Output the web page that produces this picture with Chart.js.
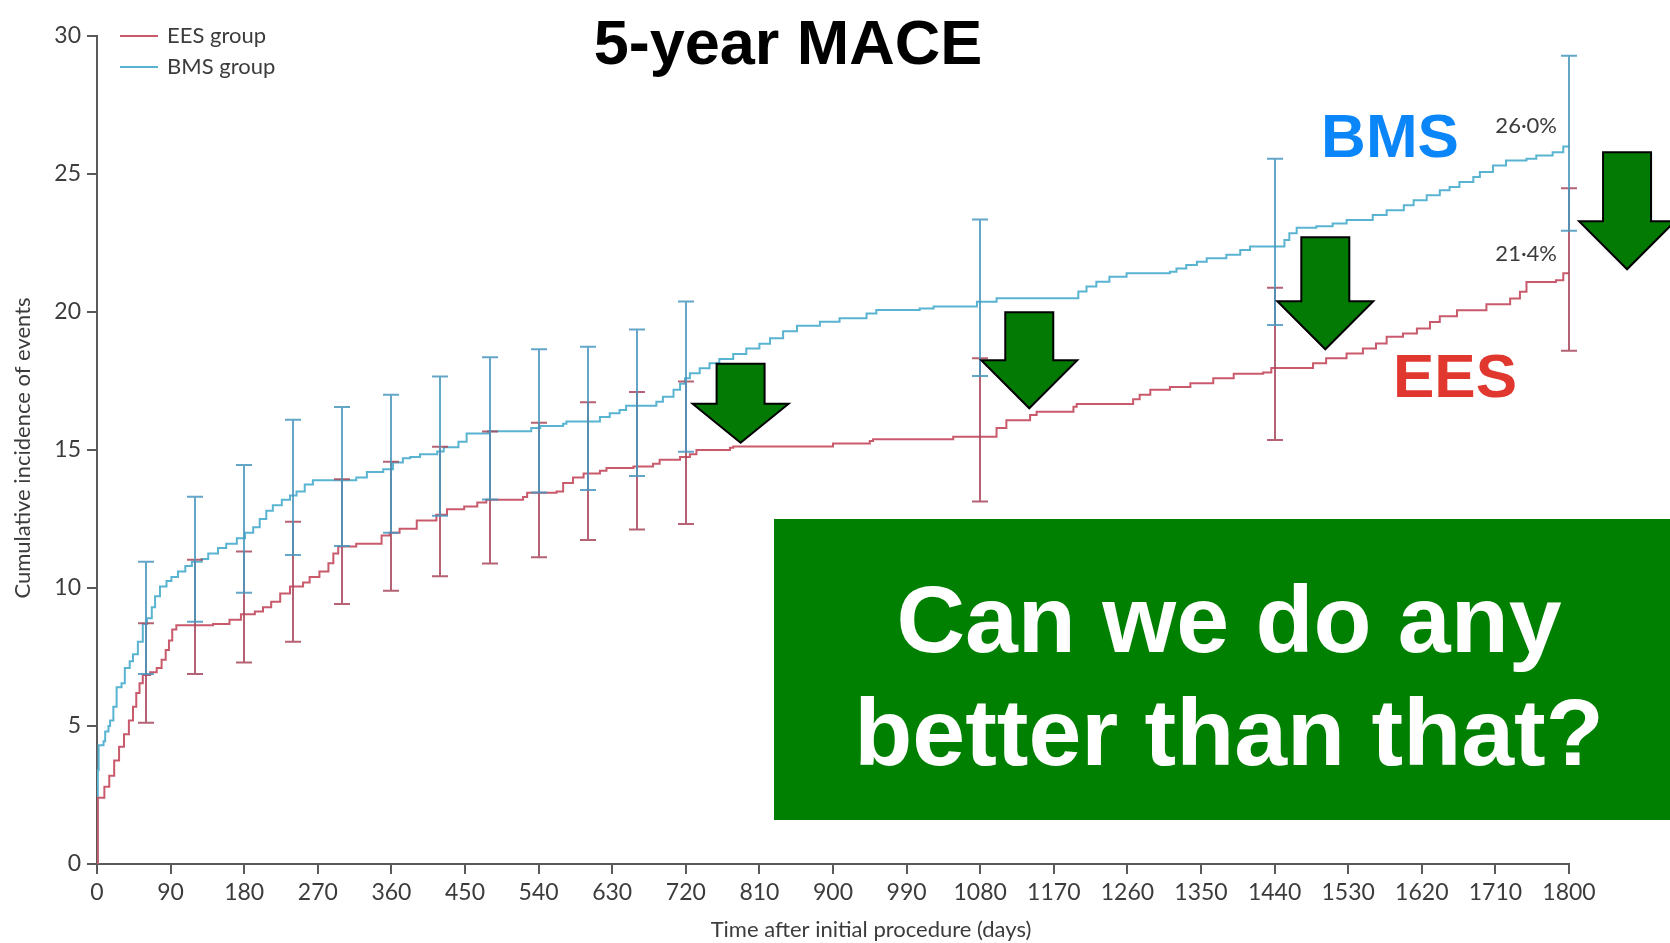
<!DOCTYPE html>
<html>
<head>
<meta charset="utf-8">
<title>5-year MACE</title>
<script src="https://cdn.jsdelivr.net/npm/chart.js@4.4.1/dist/chart.umd.min.js"></script>
<style>
  html, body { margin: 0; padding: 0; background: #ffffff; overflow: hidden; }
  canvas { display: block; }
</style>
</head>
<body>
<canvas id="mace" width="1670" height="943"></canvas>
<script>
// Cumulative incidence of MACE (%) by days after the index procedure.
// Each point marks the day the step occurs and the level reached after it.
const eesDays = [0, 1, 9, 15, 21, 27, 33, 39, 44, 48, 52, 56, 65, 73, 79, 84, 88, 92, 97, 142, 162, 176, 193, 203, 213, 224, 236, 252, 260, 272, 283, 289, 295, 317, 348, 358, 370, 391, 415, 428, 449, 465, 476, 521, 526, 562, 570, 582, 595, 615, 623, 656, 680, 688, 713, 725, 733, 774, 778, 900, 945, 949, 1047, 1100, 1112, 1141, 1149, 1194, 1198, 1267, 1275, 1288, 1312, 1337, 1365, 1390, 1426, 1436, 1487, 1503, 1528, 1548, 1564, 1577, 1597, 1614, 1630, 1642, 1663, 1699, 1728, 1740, 1748, 1784, 1793, 1800];
const eesValues = [0, 2.4, 2.8, 3.2, 3.75, 4.25, 4.7, 5.2, 5.7, 6.2, 6.55, 6.85, 6.95, 7.1, 7.4, 7.75, 8.1, 8.5, 8.65, 8.7, 8.85, 9.05, 9.15, 9.3, 9.5, 9.8, 10.05, 10.2, 10.4, 10.6, 10.9, 11.25, 11.5, 11.6, 11.9, 12.0, 12.15, 12.45, 12.65, 12.85, 12.95, 13.1, 13.2, 13.3, 13.45, 13.5, 13.8, 14.0, 14.15, 14.25, 14.35, 14.4, 14.5, 14.65, 14.75, 14.85, 15.0, 15.08, 15.13, 15.24, 15.33, 15.39, 15.48, 15.8, 16.08, 16.27, 16.39, 16.57, 16.67, 16.84, 17.0, 17.18, 17.28, 17.42, 17.6, 17.76, 17.81, 17.97, 18.14, 18.32, 18.5, 18.68, 18.86, 19.1, 19.22, 19.4, 19.64, 19.85, 20.06, 20.28, 20.49, 20.73, 21.09, 21.15, 21.4, 21.4];

const bmsDays = [0, 1, 2, 8, 10, 14, 16, 20, 24, 30, 34, 40, 44, 50, 56, 61, 67, 71, 77, 85, 91, 99, 108, 116, 128, 136, 148, 158, 171, 181, 191, 199, 207, 215, 226, 236, 244, 254, 264, 317, 330, 350, 362, 374, 383, 395, 416, 424, 442, 452, 478, 531, 542, 570, 574, 615, 627, 639, 647, 684, 692, 705, 713, 719, 725, 737, 749, 761, 778, 794, 810, 823, 839, 856, 884, 908, 941, 953, 1006, 1023, 1076, 1100, 1200, 1210, 1222, 1238, 1259, 1312, 1320, 1332, 1345, 1357, 1381, 1398, 1410, 1452, 1458, 1467, 1491, 1511, 1528, 1560, 1577, 1598, 1610, 1626, 1642, 1654, 1666, 1683, 1691, 1707, 1723, 1748, 1760, 1780, 1793, 1800];
const bmsValues = [0, 3.4, 4.3, 4.45, 4.8, 5.0, 5.2, 5.7, 6.4, 6.55, 7.1, 7.35, 7.6, 8.05, 8.7, 8.9, 9.3, 9.7, 10.05, 10.25, 10.4, 10.6, 10.8, 10.95, 11.05, 11.25, 11.45, 11.6, 11.8, 12.0, 12.2, 12.5, 12.8, 13.0, 13.2, 13.35, 13.5, 13.75, 13.9, 14.0, 14.2, 14.3, 14.55, 14.7, 14.75, 14.85, 14.95, 15.1, 15.3, 15.6, 15.68, 15.8, 15.87, 15.95, 16.03, 16.2, 16.33, 16.45, 16.6, 16.75, 16.93, 17.18, 17.4, 17.6, 17.78, 17.96, 18.14, 18.3, 18.48, 18.68, 18.85, 19.05, 19.3, 19.5, 19.65, 19.77, 19.95, 20.07, 20.13, 20.2, 20.37, 20.5, 20.74, 20.92, 21.1, 21.28, 21.4, 21.46, 21.58, 21.7, 21.82, 21.95, 22.07, 22.25, 22.37, 22.61, 22.85, 23.05, 23.11, 23.21, 23.33, 23.51, 23.69, 23.87, 24.05, 24.23, 24.41, 24.53, 24.71, 24.89, 25.07, 25.31, 25.49, 25.55, 25.67, 25.79, 26.0, 26.0];

// 95% confidence intervals at the landmark days
const ciDays = [60, 120, 180, 240, 300, 360, 420, 480, 540, 600, 660, 720, 1080, 1440, 1800];
const eesLower = [5.12, 6.88, 7.3, 8.05, 9.42, 9.9, 10.43, 10.89, 11.11, 11.74, 12.12, 12.32, 13.13, 15.36, 18.6];
const eesUpper = [8.72, 11.02, 11.32, 12.4, 13.94, 14.57, 15.12, 15.67, 15.99, 16.73, 17.1, 17.48, 18.32, 20.88, 24.48];
const bmsLower = [6.88, 8.78, 9.83, 11.2, 11.52, 12.0, 12.62, 13.21, 13.46, 13.55, 14.06, 14.94, 17.68, 19.53, 22.94];
const bmsUpper = [10.95, 13.31, 14.46, 16.1, 16.56, 17.0, 17.66, 18.36, 18.65, 18.74, 19.37, 20.38, 23.35, 25.55, 29.28];

// Axis ticks
const xTicks = [0, 90, 180, 270, 360, 450, 540, 630, 720, 810, 900, 990, 1080, 1170, 1260, 1350, 1440, 1530, 1620, 1710, 1800];
const yTicks = [0, 5, 10, 15, 20, 25, 30];

// Group names
const groupNames = ['EES group', 'BMS group'];

// Callout arrows: tip location in chart units
const arrowTips = [
  { day: 787, value: 15.26 },
  { day: 1140, value: 16.51 },
  { day: 1502, value: 18.65 },
  { day: 1871, value: 21.55 }
];

const EES_COLOR = '#c95a6c';
const BMS_COLOR = '#59b4d2';
const AXIS_COLOR = '#5a5a5a';
const TEXT_COLOR = '#3c3c3c';
const AXIS_FONT = 'Lato, "Liberation Sans", sans-serif';
const BOLD_FONT = '"Liberation Sans", Arial, sans-serif';

const toPoints = (days, values) => days.map((d, i) => ({ x: d, y: values[i] }));

// Shape of each arrow (px): shaft length, head height
const arrowShapes = [
  { shaft: 40, head: 39 },
  { shaft: 48, head: 48 },
  { shaft: 64, head: 48 },
  { shaft: 69, head: 48 }
];

const decorations = {
  id: 'decorations',
  afterDatasetsDraw(chart) {
    const { ctx, scales: { x, y } } = chart;

    // Confidence interval bars
    const drawBars = (lo, hi, color) => {
      ctx.save();
      ctx.strokeStyle = color;
      ctx.lineWidth = 2;
      ciDays.forEach((d, i) => {
        const px = Math.round(x.getPixelForValue(d));
        const y0 = y.getPixelForValue(lo[i]);
        const y1 = y.getPixelForValue(hi[i]);
        ctx.beginPath();
        ctx.moveTo(px, y0); ctx.lineTo(px, y1);
        ctx.moveTo(px - 8, y0); ctx.lineTo(px + 8, y0);
        ctx.moveTo(px - 8, y1); ctx.lineTo(px + 8, y1);
        ctx.stroke();
      });
      ctx.restore();
    };
    drawBars(eesLower, eesUpper, 'rgba(168, 72, 92, 0.85)');
    drawBars(bmsLower, bmsUpper, 'rgba(72, 150, 190, 0.85)');

    // Final cumulative incidence next to the last step
    ctx.save();
    ctx.font = '22px ' + AXIS_FONT;
    ctx.fillStyle = TEXT_COLOR;
    ctx.textAlign = 'right';
    ctx.textBaseline = 'middle';
    const endX = x.getPixelForValue(xTicks[xTicks.length - 1]) - 12;
    const fmt = v => v.toFixed(1).replace('.', '\u00b7') + '%';
    const eesEnd = eesValues[eesValues.length - 1];
    const bmsEnd = bmsValues[bmsValues.length - 1];
    ctx.fillText(fmt(bmsEnd), endX, y.getPixelForValue(bmsEnd) - 20);
    ctx.fillText(fmt(eesEnd), endX, y.getPixelForValue(eesEnd) - 19);
    ctx.restore();

    // Legend
    ctx.save();
    ctx.font = '22px ' + AXIS_FONT;
    ctx.textBaseline = 'middle';
    ctx.fillStyle = TEXT_COLOR;
    [[EES_COLOR, 36], [BMS_COLOR, 67]].forEach(([c, ly], i) => {
      ctx.strokeStyle = c;
      ctx.lineWidth = 2;
      ctx.beginPath(); ctx.moveTo(120, ly); ctx.lineTo(158, ly); ctx.stroke();
      ctx.fillText(groupNames[i], 167, ly);
    });
    ctx.restore();

    // Axis titles
    ctx.save();
    ctx.font = '22px ' + AXIS_FONT;
    ctx.fillStyle = TEXT_COLOR;
    ctx.textAlign = 'center';
    ctx.textBaseline = 'middle';
    ctx.fillText('Time after initial procedure (days)', 871, 930);
    ctx.translate(23, 448);
    ctx.rotate(-Math.PI / 2);
    ctx.fillText('Cumulative incidence of events', 0, 0);
    ctx.restore();
  },
  afterDraw(chart) {
    const { ctx, scales: { x, y } } = chart;

    // Title
    ctx.save();
    ctx.fillStyle = '#000000';
    ctx.font = 'bold 63px ' + BOLD_FONT;
    ctx.textAlign = 'center';
    ctx.textBaseline = 'alphabetic';
    ctx.fillText('5-year MACE', 788, 64);

    // Group call-outs
    ctx.font = 'bold 62px ' + BOLD_FONT;
    ctx.fillStyle = '#0a86f8';
    ctx.fillText('BMS', 1390, 157);
    ctx.fillStyle = '#e0382f';
    ctx.fillText('EES', 1455, 397);
    ctx.restore();

    // Down arrows
    ctx.save();
    ctx.fillStyle = '#037a03';
    ctx.strokeStyle = '#000000';
    ctx.lineWidth = 2;
    ctx.lineJoin = 'miter';
    arrowTips.forEach((t, i) => {
      const tx = x.getPixelForValue(t.day);
      const ty = y.getPixelForValue(t.value);
      const { shaft, head } = arrowShapes[i];
      const sw = 24, hw = 48;
      const hy = ty - head, sy = hy - shaft;
      ctx.beginPath();
      ctx.moveTo(tx - sw, sy);
      ctx.lineTo(tx + sw, sy);
      ctx.lineTo(tx + sw, hy);
      ctx.lineTo(tx + hw, hy);
      ctx.lineTo(tx, ty);
      ctx.lineTo(tx - hw, hy);
      ctx.lineTo(tx - sw, hy);
      ctx.closePath();
      ctx.fill();
      ctx.stroke();
    });
    ctx.restore();

    // Question panel
    ctx.save();
    ctx.fillStyle = '#008000';
    ctx.fillRect(774, 519, 896, 301);
    ctx.fillStyle = '#ffffff';
    ctx.font = 'bold 95px ' + BOLD_FONT;
    ctx.textAlign = 'center';
    ctx.textBaseline = 'alphabetic';
    ctx.fillText('Can we do any', 1229, 652);
    ctx.fillText('better than that?', 1229, 765);
    ctx.restore();
  }
};

new Chart(document.getElementById('mace'), {
  type: 'line',
  data: {
    datasets: [
      {
        label: groupNames[0],
        data: toPoints(eesDays, eesValues),
        borderColor: EES_COLOR,
        borderWidth: 2,
        stepped: true,
        pointRadius: 0,
        fill: false
      },
      {
        label: groupNames[1],
        data: toPoints(bmsDays, bmsValues),
        borderColor: BMS_COLOR,
        borderWidth: 2,
        stepped: true,
        pointRadius: 0,
        fill: false
      }
    ]
  },
  options: {
    responsive: false,
    animation: false,
    devicePixelRatio: 1,
    layout: { padding: { left: 0, right: 101, top: 36, bottom: 0 } },
    plugins: {
      legend: { display: false },
      title: { display: false },
      tooltip: { enabled: false }
    },
    scales: {
      x: {
        type: 'linear',
        min: 0,
        max: 1800,
        afterBuildTicks: s => { s.ticks = xTicks.map(v => ({ value: v })); },
        afterFit: s => { s.height = 79; },
        grid: { drawOnChartArea: false, drawTicks: true, tickLength: 10, color: AXIS_COLOR, lineWidth: 2 },
        border: { display: true, color: AXIS_COLOR, width: 2 },
        ticks: { autoSkip: false, maxRotation: 0, padding: 5, color: TEXT_COLOR, font: { family: AXIS_FONT, size: 23 }, callback: v => String(v) }
      },
      y: {
        min: 0,
        max: 30,
        afterBuildTicks: s => { s.ticks = yTicks.map(v => ({ value: v })); },
        afterFit: s => { s.width = 97; },
        grid: { drawOnChartArea: false, drawTicks: true, tickLength: 10, color: AXIS_COLOR, lineWidth: 2 },
        border: { display: true, color: AXIS_COLOR, width: 2 },
        ticks: { padding: 6, color: TEXT_COLOR, font: { family: AXIS_FONT, size: 23 }, callback: v => String(v) }
      }
    }
  },
  plugins: [decorations]
});
</script>
</body>
</html>
